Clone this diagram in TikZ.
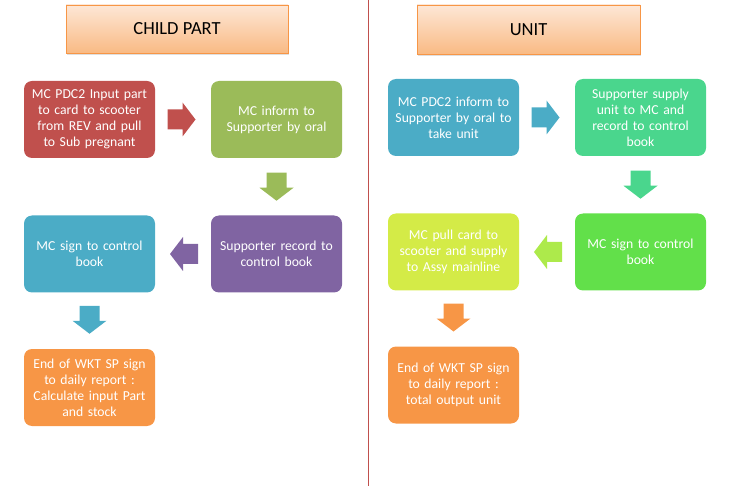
\documentclass[tikz,border=0pt]{standalone}
\usepackage{fontspec}
\setmainfont{Carlito}
\usetikzlibrary{calc,shadows}
\definecolor{cred}{HTML}{C0504D}
\definecolor{colive}{HTML}{9BBB59}
\definecolor{cteal}{HTML}{4BACC6}
\definecolor{cpurple}{HTML}{8064A2}
\definecolor{corange}{HTML}{F79646}
\definecolor{cmint}{HTML}{4AD68D}
\definecolor{cbgreen}{HTML}{62E04A}
\definecolor{cyellow}{HTML}{D4EB47}
\definecolor{clight}{HTML}{ADEA4B}
\definecolor{ttop}{HTML}{FDE7D6}
\definecolor{tbot}{HTML}{F9BA84}
\newcommand\blockarr[3]{%
  \fill[#1, shift={(#2)}, rotate=#3] (-14,-10) -- (1,-10) -- (1,-17) -- (14,0) -- (1,17) -- (1,10) -- (-14,10) -- cycle;}
\tikzset{
  titlebox/.style={draw=corange, line width=0.8pt, top color=ttop, bottom color=tbot,
    minimum width=222pt, minimum height=48pt, inner sep=0pt,
    drop shadow={opacity=0.25, shadow xshift=1pt, shadow yshift=-2pt},
    font=\fontsize{18.5}{22}\selectfont, text=black},
  procbox/.style={fill=#1, draw=none, rounded corners=8pt, minimum width=131pt, minimum height=77pt,
    inner sep=0pt, text width=126pt, align=center, text=white,
    font=\fontsize{13.7}{15.9}\selectfont},
}
\begin{document}
\begin{tikzpicture}[x=1pt,y=-1pt]
\useasboundingbox (0,0) rectangle (736,486);
\draw[cred, line width=1pt] (368,0) -- (368,486);
% titles
\node[titlebox] (t1) at (177,29) {CHILD PART};
\node[titlebox, minimum width=223pt, minimum height=49pt] (t2) at (528.5,29.5) {UNIT};
% left column
\node[procbox=cred] (a1) at (89.5,119.5) {MC PDC2 Input part\\to card to scooter\\from REV and pull\\to Sub pregnant};
\node[procbox=colive] (a2) at (276.5,119.5) {MC inform to\\Supporter by oral};
\node[procbox=cpurple] (a3) at (276.5,254) {Supporter record to\\control book};
\node[procbox=cteal] (a4) at (89.5,254) {MC sign to control\\book};
\node[procbox=corange] (a5) at (89.5,387.5) {End of WKT SP sign\\to daily report :\\Calculate input Part\\and stock};
% right column
\node[procbox=cteal] (b1) at (453.5,117.5) {MC PDC2 inform to\\Supporter by oral to\\take unit};
\node[procbox=cmint] (b2) at (640.5,117.5) {Supporter supply\\unit to MC and\\record to control\\book};
\node[procbox=cbgreen] (b3) at (640.5,252) {MC sign to control\\book};
\node[procbox=cyellow] (b4) at (453.5,252) {MC pull card to\\scooter and supply\\to Assy mainline};
\node[procbox=corange] (b5) at (453.5,385) {End of WKT SP sign\\to daily report :\\total output unit};
% arrows
\coordinate (m1) at ($(a1.east)!0.5!(a2.west)+(-1.5,0)$);
\coordinate (m2) at ($(a2.south)!0.5!(a3.north)$);
\coordinate (m3) at ($(a3.west)!0.5!(a4.east)+(1,0)$);
\coordinate (m4) at ($(a4.south)!0.5!(a5.north)+(0,-1)$);
\coordinate (n1) at ($(b1.east)!0.5!(b2.west)+(-1.5,0)$);
\coordinate (n2) at ($(b2.south)!0.5!(b3.north)$);
\coordinate (n3) at ($(b3.west)!0.5!(b4.east)+(1,0)$);
\coordinate (n4) at ($(b4.south)!0.5!(b5.north)+(0,-1)$);
\blockarr{cred}{m1}{0}
\blockarr{colive}{m2}{-90}
\blockarr{cpurple}{m3}{180}
\blockarr{cteal}{m4}{-90}
\blockarr{cteal}{n1}{0}
\blockarr{cmint}{n2}{-90}
\blockarr{clight}{n3}{180}
\blockarr{corange}{n4}{-90}
\end{tikzpicture}
\end{document}
